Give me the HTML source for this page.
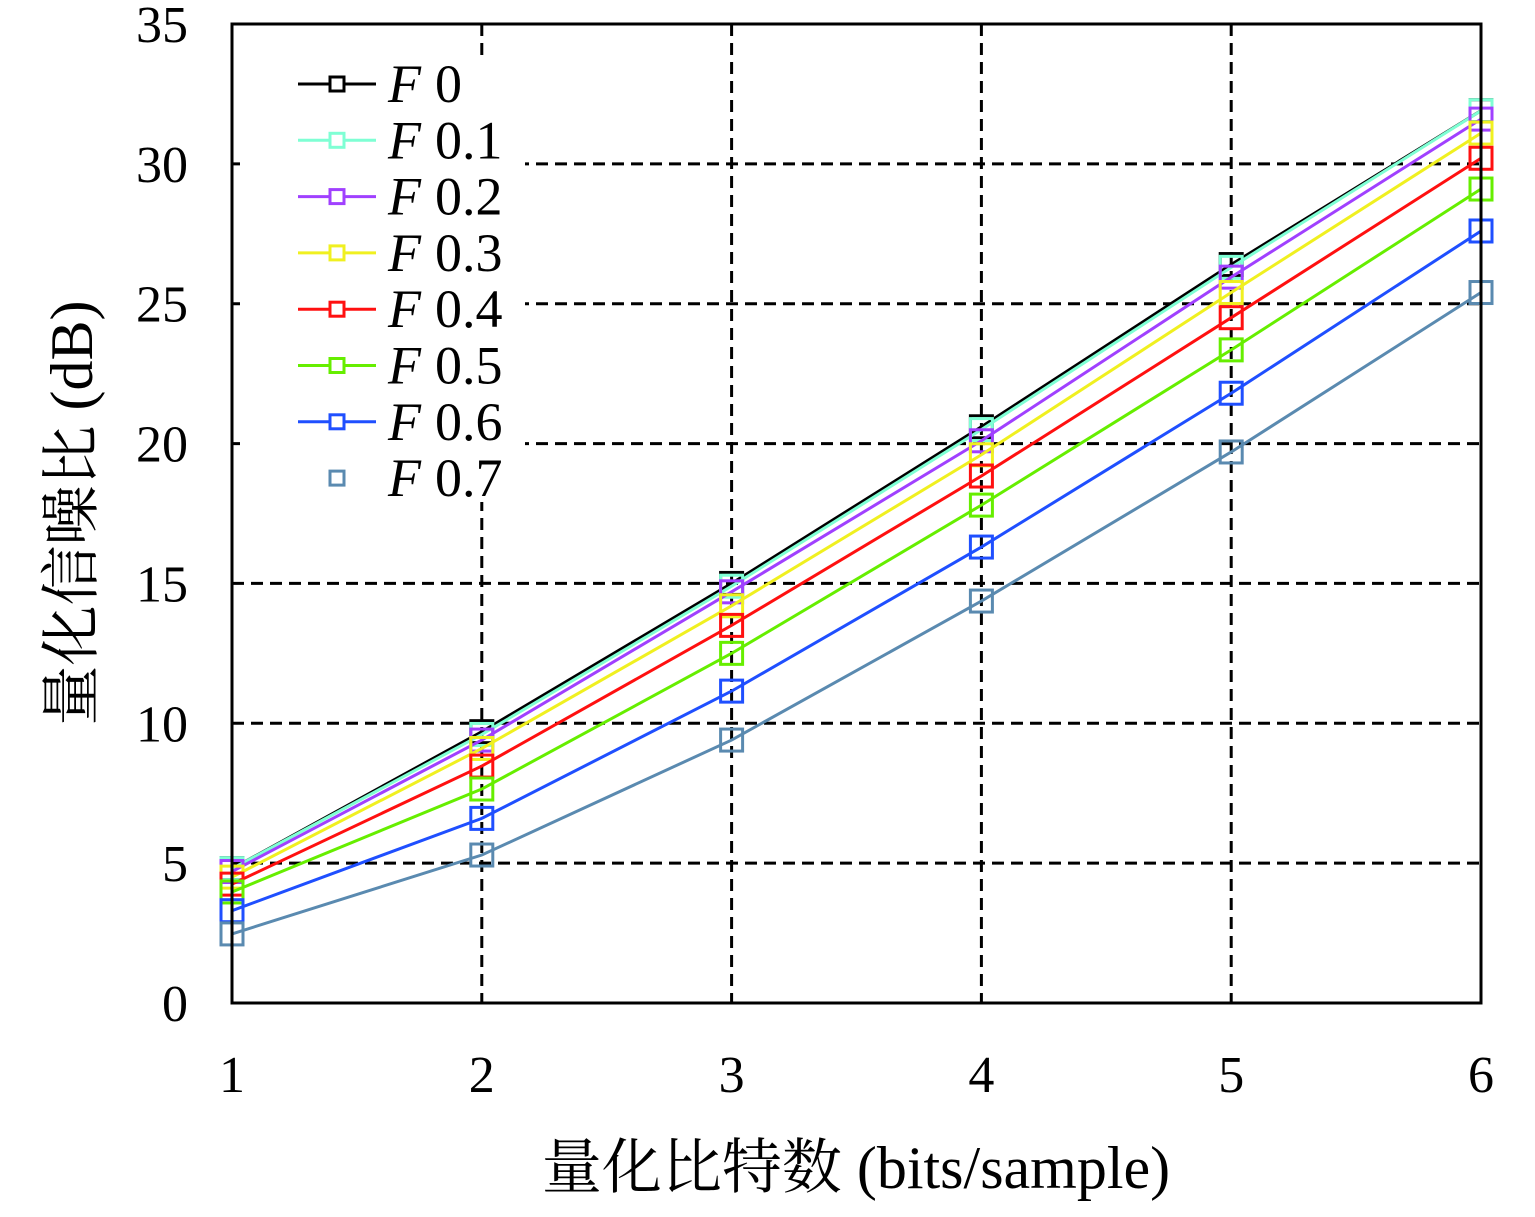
<!DOCTYPE html>
<html><head><meta charset="utf-8"><style>
html,body{margin:0;padding:0;background:#fff;}
svg text{font-family:"Liberation Serif","Noto Serif CJK SC",serif;}
</style></head><body>
<svg id="chart" width="1535" height="1212" viewBox="0 0 1535 1212" xmlns="http://www.w3.org/2000/svg">
<g id="grid"></g>
<g id="legend-bg-layer"></g>
<g id="series"></g>
<g id="axes"></g>
<g id="legend"></g>
</svg>
<script>
const xCategories=[1,2,3,4,5,6];
const yTicks=[0,5,10,15,20,25,30,35];
const seriesNames=["F 0","F 0.1","F 0.2","F 0.3","F 0.4","F 0.5","F 0.6","F 0.7"];
const seriesColors=["#000000","#7fffd4","#a040ff","#f0f020","#ff1010","#66ee00","#1f4fff","#5a8ab0"];
const sF00=[4.8,9.7,15.0,20.6,26.4,31.9];
const sF01=[4.8,9.6,14.9,20.5,26.3,31.9];
const sF02=[4.7,9.4,14.7,20.1,25.95,31.6];
const sF03=[4.5,9.1,14.2,19.6,25.4,31.1];
const sF04=[4.25,8.47,13.5,18.84,24.5,30.2];
const sF05=[3.97,7.65,12.5,17.8,23.35,29.1];
const sF06=[3.3,6.6,11.15,16.3,21.8,27.6];
const sF07=[2.47,5.29,9.4,14.37,19.7,25.4];
const seriesValues=[sF00,sF01,sF02,sF03,sF04,sF05,sF06,sF07];

const NS="http://www.w3.org/2000/svg";
const X0=232,X1=1481,Y0=1003,Y1=24;
const xs=v=>X0+(v-1)/(6-1)*(X1-X0);
const ys=v=>Y0-(v/35)*(Y0-Y1);
function mk(tag,attrs,parent){const e=document.createElementNS(NS,tag);for(const k in attrs)e.setAttribute(k,attrs[k]);parent.appendChild(e);return e;}
const grid=document.getElementById('grid'),axes=document.getElementById('axes'),ser=document.getElementById('series'),leg=document.getElementById('legend');

xCategories.forEach(c=>{if(c===1||c===6)return;
 const l=mk('line',{x1:xs(c),x2:xs(c),y1:Y1,y2:Y0,stroke:'#000','stroke-width':3,'stroke-dasharray':'12,7'},grid);
 
 });
yTicks.forEach(t=>{if(t===0||t===35)return;
 const l=mk('line',{x1:X0,x2:X1,y1:ys(t),y2:ys(t),stroke:'#000','stroke-width':3,'stroke-dasharray':'12,7'},grid);
 
 });

seriesValues.forEach((vals,i)=>{
 const g=mk('g',{},ser);
 
 
 const pts=vals.map((v,j)=>xs(xCategories[j])+','+ys(v)).join(' ');
 mk('polyline',{points:pts,fill:'none',stroke:seriesColors[i],'stroke-width':3},g);
 vals.forEach((v,j)=>{
  const r=mk('rect',{x:xs(xCategories[j])-11,y:ys(v)-11,width:22,height:22,fill:'none',stroke:seriesColors[i],'stroke-width':3},g);
  
  
 });
});

const lb=mk('rect',{x:240,y:56,width:285,height:446,fill:'#fff'},document.getElementById('legend-bg-layer'));



seriesNames.forEach((n,i)=>{
 const y=84+i*56.3;
 const g=mk('g',{},leg);
 
 
 if(i<7) mk('line',{x1:298,x2:376,y1:y,y2:y,stroke:seriesColors[i],'stroke-width':3},g);
 mk('rect',{x:330,y:y-7,width:14,height:14,fill:i<7?'#fff':'none',stroke:seriesColors[i],'stroke-width':3},g);
 const t=mk('text',{x:388,y:y+18,'font-size':54},g);
 const f=mk('tspan',{'font-style':'italic'},t);f.textContent='F';
 const r=mk('tspan',{dx:14},t);r.textContent=n.slice(2);
});

mk('rect',{x:X0,y:Y1,width:X1-X0,height:Y0-Y1,fill:'none',stroke:'#000','stroke-width':3},axes);
yTicks.forEach(t=>{
 const tx=mk('text',{x:188,y:ys(t)+18,'font-size':52,'text-anchor':'end'},axes);
 
 
 tx.textContent=t;
});
xCategories.forEach(c=>{
 const tx=mk('text',{x:xs(c),y:1092,'font-size':52,'text-anchor':'middle'},axes);
 
 
 tx.textContent=c;
});
const xt=mk('text',{x:856,y:1188,'font-size':60,'text-anchor':'middle'},axes);


xt.textContent='量化比特数 (bits/sample)';
const yt=mk('text',{x:0,y:0,'font-size':60,'text-anchor':'middle',transform:'translate(92,513) rotate(-90)'},axes);


yt.textContent='量化信噪比 (dB)';
</script>
</body></html>
